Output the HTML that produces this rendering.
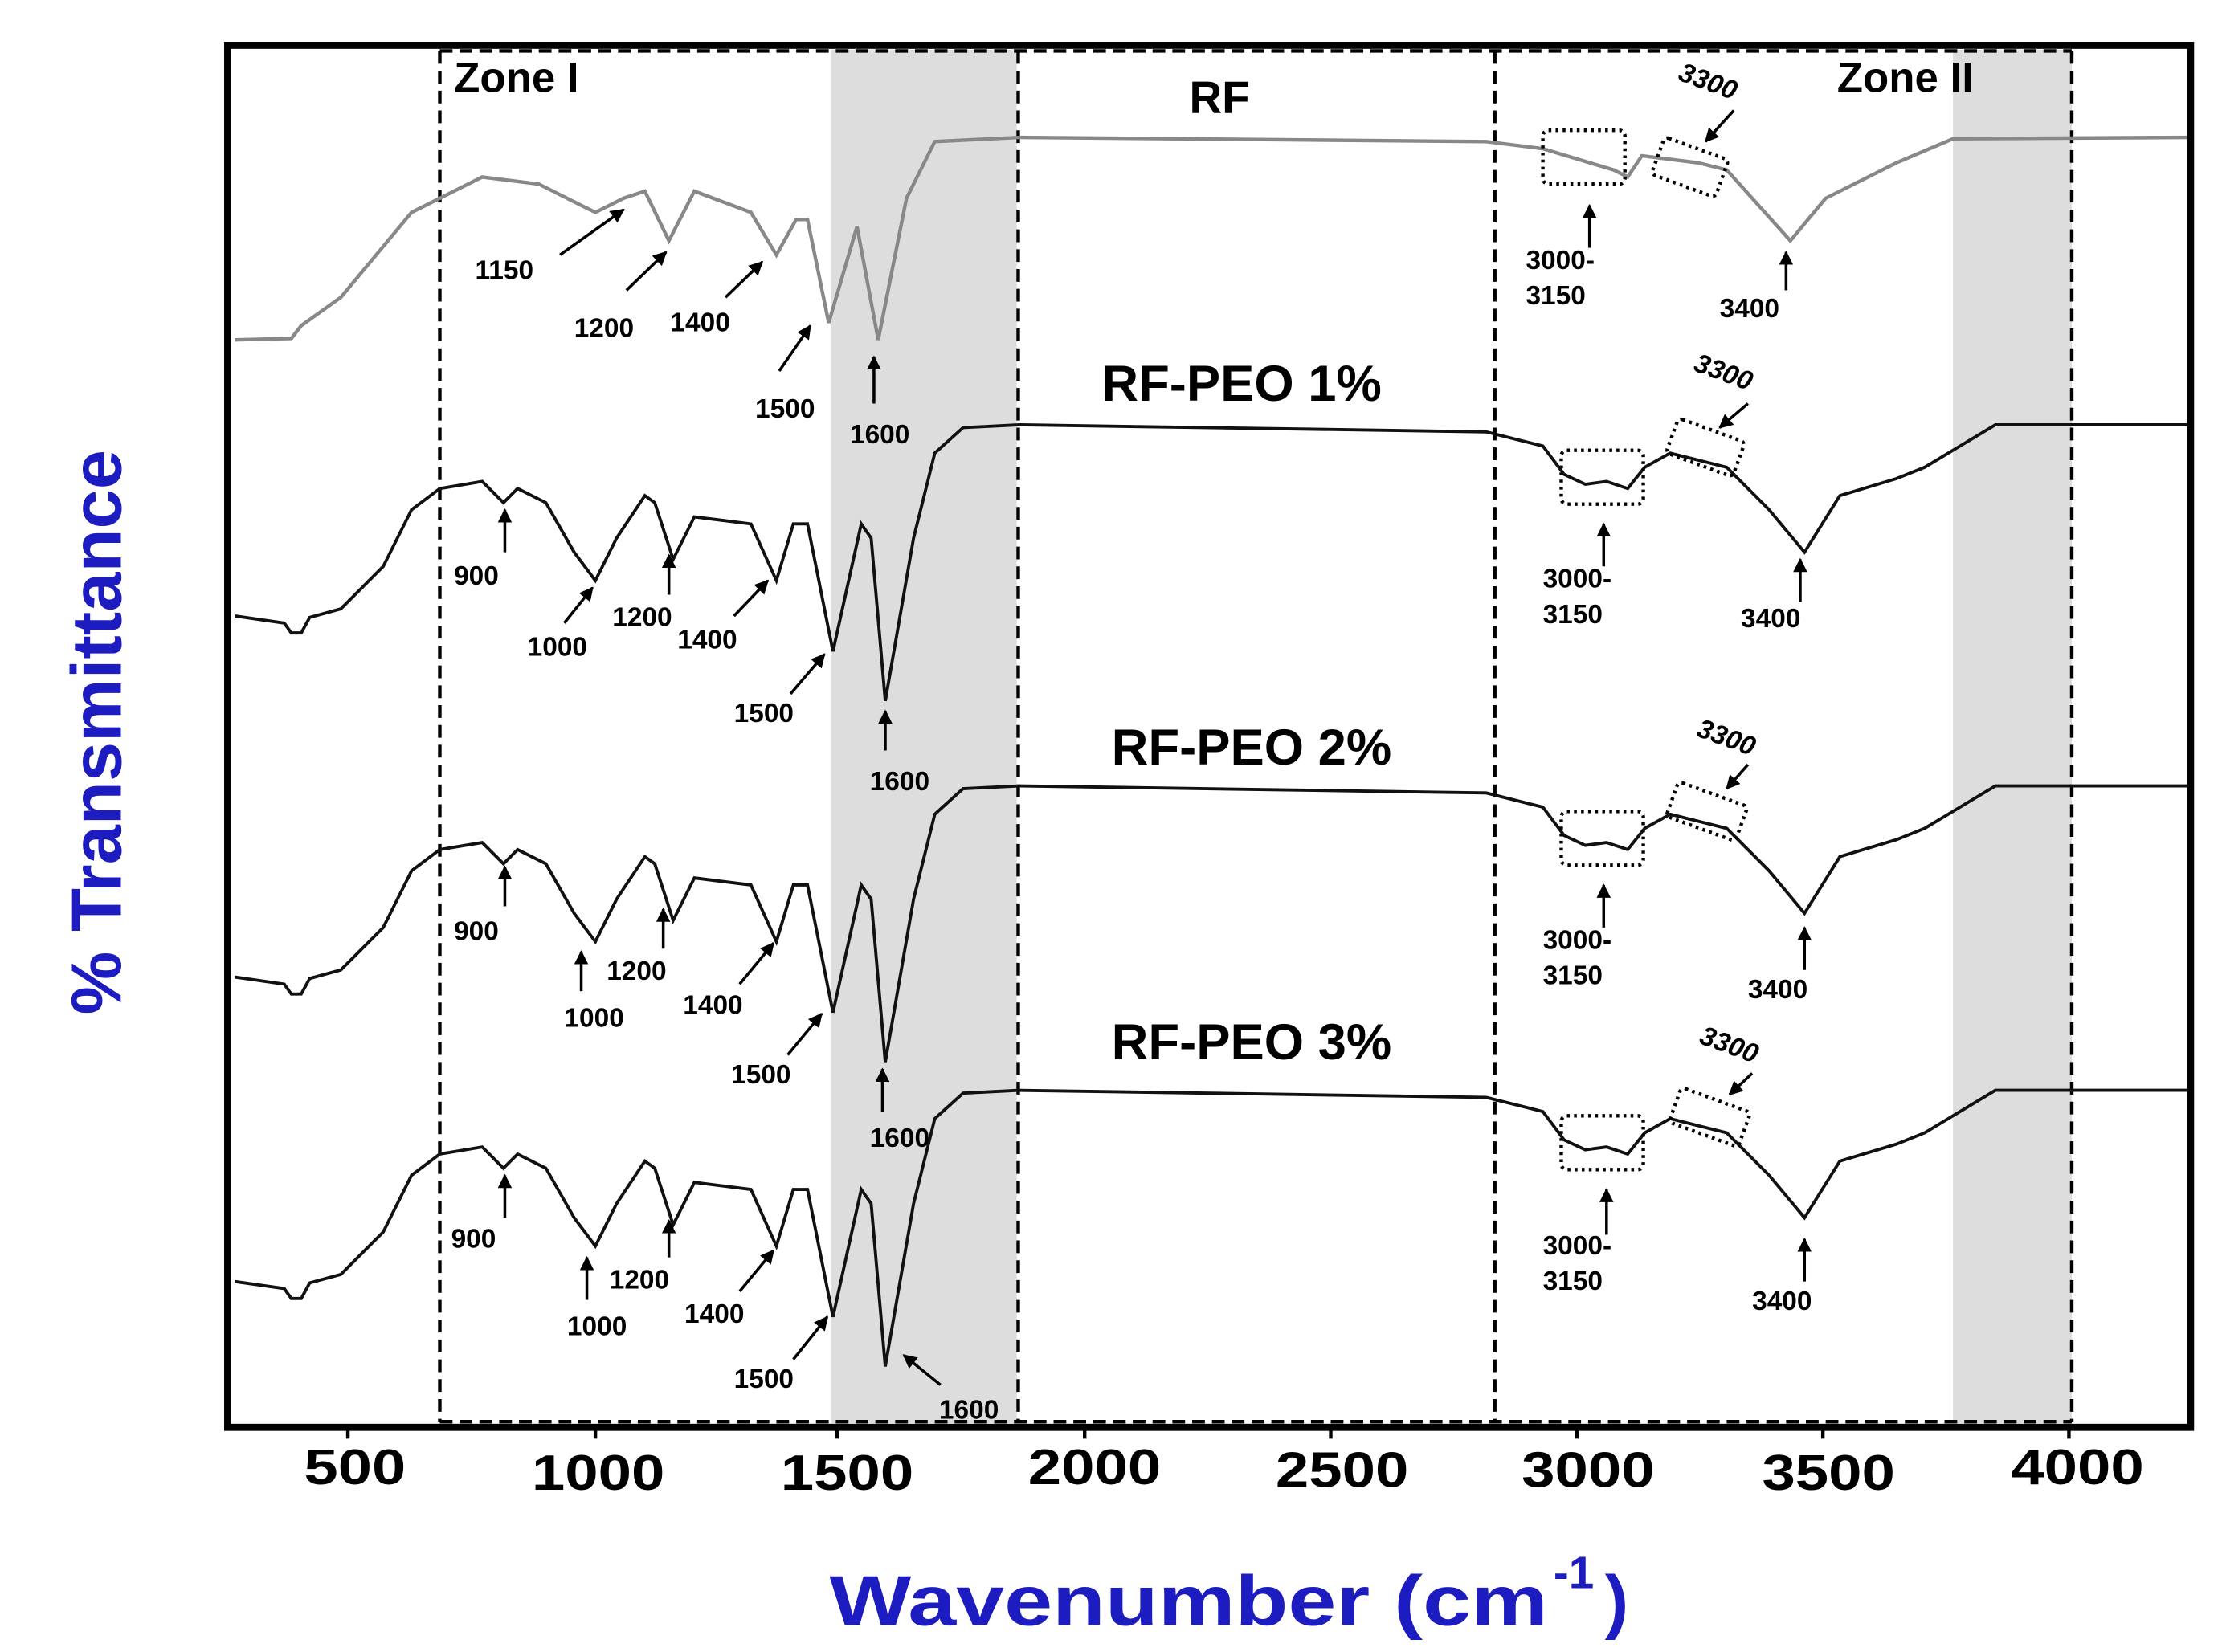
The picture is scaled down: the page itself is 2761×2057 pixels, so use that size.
<!DOCTYPE html>
<html><head><meta charset="utf-8"><style>
html,body{margin:0;padding:0;background:#fff;}
svg{display:block;}
text{font-family:"Liberation Sans",sans-serif;font-weight:bold;fill:#000;}
.s{font-size:19px;}
.t{font-size:35px;}
</style></head><body>
<svg width="2761" height="2057" viewBox="0 0 1559 1162" preserveAspectRatio="none" xmlns="http://www.w3.org/2000/svg">
<defs>
<marker id="a" viewBox="0 0 10 10" refX="9" refY="5" markerWidth="5" markerHeight="5" orient="auto"><path d="M0,0L10,5L0,10z" fill="#000"/></marker>
<path id="c" d="M165,435 L200,440 L205,447 L212,447 L218,436 L240,430 L270,400 L290,360 L310,345 L340,340 L355,355 L365,345 L385,355 L405,390 L420,410 L435,380 L455,350 L462,355 L475,395 L490,365 L530,370 L548,410 L560,370 L570,370 L588,460 L608,370 L615,380 L625,495 L645,380 L660,320 L680,302 L720,300 L1050,305 L1090,315 L1105,335 L1120,342 L1135,340 L1150,345 L1162,330 L1180,320 L1200,325 L1220,330 L1250,360 L1275,390 L1300,350 L1340,338 L1360,330 L1385,315 L1410,300 L1548,300" fill="none" stroke="#111" stroke-width="2.2"/>
</defs>
<g transform="matrix(0.994 0 0 0.996 1 0)">
<rect x="587" y="35" width="131" height="970" fill="#ddd"/>
<rect x="1380" y="35" width="84" height="970" fill="#ddd"/>
<g stroke="#000" stroke-width="2.5" stroke-dasharray="9,5" fill="none">
<line x1="310" y1="36" x2="310" y2="1004"/><line x1="719" y1="36" x2="719" y2="1004"/>
<line x1="1056" y1="36" x2="1056" y2="1004"/><line x1="1464" y1="36" x2="1464" y2="1004"/>
<line x1="310" y1="36" x2="1464" y2="36"/><line x1="310" y1="1004" x2="1464" y2="1004"/>
</g>
<path d="M165,240 L205,239 L212,230 L240,210 L290,150 L340,125 L380,130 L420,150 L440,140 L455,135 L472,170 L490,135 L530,150 L548,180 L562,155 L570,155 L585,228 L605,160 L620,240 L640,140 L660,100 L720,97 L1050,100 L1090,105 L1140,120 L1150,125 L1160,110 L1200,115 L1220,120 L1265,170 L1290,140 L1340,115 L1380,98 L1548,97" fill="none" stroke="#888" stroke-width="2.5"/>
<use href="#c"/>
<use href="#c" transform="translate(0,255)"/>
<use href="#c" transform="translate(0,470)"/>
<rect x="160" y="32" width="1388" height="976" fill="none" stroke="#000" stroke-width="5"/>
<g stroke="#000" stroke-width="2.5">
<line x1="245" y1="1008" x2="245" y2="1016"/><line x1="420" y1="1008" x2="420" y2="1016"/><line x1="591" y1="1008" x2="591" y2="1016"/><line x1="766" y1="1008" x2="766" y2="1016"/><line x1="940" y1="1008" x2="940" y2="1016"/><line x1="1114" y1="1008" x2="1114" y2="1016"/><line x1="1288" y1="1008" x2="1288" y2="1016"/><line x1="1462" y1="1008" x2="1462" y2="1016"/>
</g>
<text x="320" y="65" style="font-size:30px">Zone I</text>
<text x="1298" y="65" style="font-size:30px">Zone II</text>
<text x="840" y="80" style="font-size:32px">RF</text>
<text x="778" y="283" style="font-size:36px">RF-PEO 1%</text>
<text x="785" y="540" style="font-size:36px">RF-PEO 2%</text>
<text x="785" y="748" style="font-size:36px">RF-PEO 3%</text>
<g stroke="#000" stroke-width="2" marker-end="url(#a)">
<line x1="395" y1="180" x2="440" y2="148"/><line x1="442" y1="205" x2="470" y2="178"/><line x1="512" y1="210" x2="538" y2="185"/><line x1="550" y1="262" x2="572" y2="230"/><line x1="617" y1="285" x2="617" y2="252"/><line x1="1123" y1="175" x2="1123" y2="145"/><line x1="1225" y1="78" x2="1205" y2="100"/><line x1="1262" y1="205" x2="1262" y2="178"/>
<line x1="356" y1="390" x2="356" y2="360"/><line x1="398" y1="440" x2="418" y2="415"/><line x1="472" y1="420" x2="472" y2="392"/><line x1="518" y1="435" x2="542" y2="410"/><line x1="558" y1="490" x2="582" y2="462"/><line x1="625" y1="530" x2="625" y2="502"/><line x1="1133" y1="400" x2="1133" y2="370"/><line x1="1235" y1="285" x2="1215" y2="302"/><line x1="1272" y1="425" x2="1272" y2="395"/>
<line x1="356" y1="640" x2="356" y2="612"/><line x1="410" y1="700" x2="410" y2="672"/><line x1="468" y1="670" x2="468" y2="642"/><line x1="522" y1="695" x2="546" y2="666"/><line x1="556" y1="745" x2="580" y2="716"/><line x1="623" y1="785" x2="623" y2="755"/><line x1="1133" y1="655" x2="1133" y2="625"/><line x1="1235" y1="540" x2="1220" y2="557"/><line x1="1275" y1="685" x2="1275" y2="655"/>
<line x1="356" y1="860" x2="356" y2="830"/><line x1="414" y1="918" x2="414" y2="888"/><line x1="472" y1="888" x2="472" y2="862"/><line x1="522" y1="912" x2="546" y2="883"/><line x1="560" y1="960" x2="584" y2="930"/><line x1="664" y1="978" x2="638" y2="957"/><line x1="1135" y1="872" x2="1135" y2="840"/><line x1="1238" y1="758" x2="1222" y2="773"/><line x1="1275" y1="905" x2="1275" y2="875"/>
</g>
<g fill="none" stroke="#000" stroke-width="2.5" stroke-dasharray="2,3">
<rect x="1090" y="92" width="58" height="38" rx="4"/><rect x="1170" y="104" width="48" height="28" rx="3" transform="rotate(20 1194 118)"/>
<rect x="1103" y="318" width="58" height="38" rx="4"/><rect x="1180" y="303" width="50" height="26" rx="3" transform="rotate(20 1205 316)"/>
<rect x="1103" y="573" width="58" height="38" rx="4"/><rect x="1180" y="560" width="52" height="26" rx="3" transform="rotate(20 1206 573)"/>
<rect x="1103" y="788" width="58" height="38" rx="4"/><rect x="1182" y="776" width="52" height="26" rx="3" transform="rotate(20 1208 789)"/>
</g>
<g class="s">
<text x="335" y="197">1150</text><text x="405" y="238">1200</text><text x="473" y="234">1400</text><text x="533" y="295">1500</text><text x="600" y="313">1600</text>
<text x="1078" y="190">3000-</text><text x="1078" y="215">3150</text><text x="1215" y="224">3400</text>
<text x="320" y="413">900</text><text x="372" y="463">1000</text><text x="432" y="442">1200</text><text x="478" y="458">1400</text><text x="518" y="510">1500</text><text x="614" y="558">1600</text>
<text x="1090" y="415">3000-</text><text x="1090" y="440">3150</text><text x="1230" y="443">3400</text>
<text x="320" y="664">900</text><text x="398" y="725">1000</text><text x="428" y="692">1200</text><text x="482" y="716">1400</text><text x="516" y="765">1500</text><text x="614" y="810">1600</text>
<text x="1090" y="670">3000-</text><text x="1090" y="695">3150</text><text x="1235" y="705">3400</text>
<text x="318" y="881">900</text><text x="400" y="943">1000</text><text x="430" y="910">1200</text><text x="483" y="934">1400</text><text x="518" y="980">1500</text><text x="663" y="1002">1600</text>
<text x="1090" y="886">3000-</text><text x="1090" y="911">3150</text><text x="1238" y="925">3400</text>
<g font-style="italic">
<text x="1185" y="65" transform="rotate(20 1210 60)">3300</text>
<text x="1196" y="270" transform="rotate(20 1220 265)">3300</text>
<text x="1198" y="528" transform="rotate(20 1222 523)">3300</text>
<text x="1200" y="745" transform="rotate(20 1224 740)">3300</text>
</g>
</g>
<g class="t" text-anchor="middle">
<text x="250" y="1048" textLength="72" lengthAdjust="spacingAndGlyphs">500</text>
<text x="422" y="1052" textLength="94" lengthAdjust="spacingAndGlyphs">1000</text>
<text x="598" y="1052" textLength="94" lengthAdjust="spacingAndGlyphs">1500</text>
<text x="773" y="1048" textLength="94" lengthAdjust="spacingAndGlyphs">2000</text>
<text x="948" y="1050" textLength="94" lengthAdjust="spacingAndGlyphs">2500</text>
<text x="1122" y="1050" textLength="94" lengthAdjust="spacingAndGlyphs">3000</text>
<text x="1292" y="1052" textLength="94" lengthAdjust="spacingAndGlyphs">3500</text>
<text x="1468" y="1048" textLength="94" lengthAdjust="spacingAndGlyphs">4000</text>
</g>
</g>
<text x="583" y="1143" style="font-size:50px;fill:#1c1cc0" textLength="505" lengthAdjust="spacingAndGlyphs">Wavenumber (cm</text>
<text x="1092" y="1117" style="font-size:32px;fill:#1c1cc0">-1</text>
<text x="1128" y="1143" style="font-size:50px;fill:#1c1cc0">)</text>
<text transform="translate(85,515) rotate(-90)" text-anchor="middle" style="font-size:50px;fill:#1c1cc0">% Transmittance</text>
</svg>
</body></html>
